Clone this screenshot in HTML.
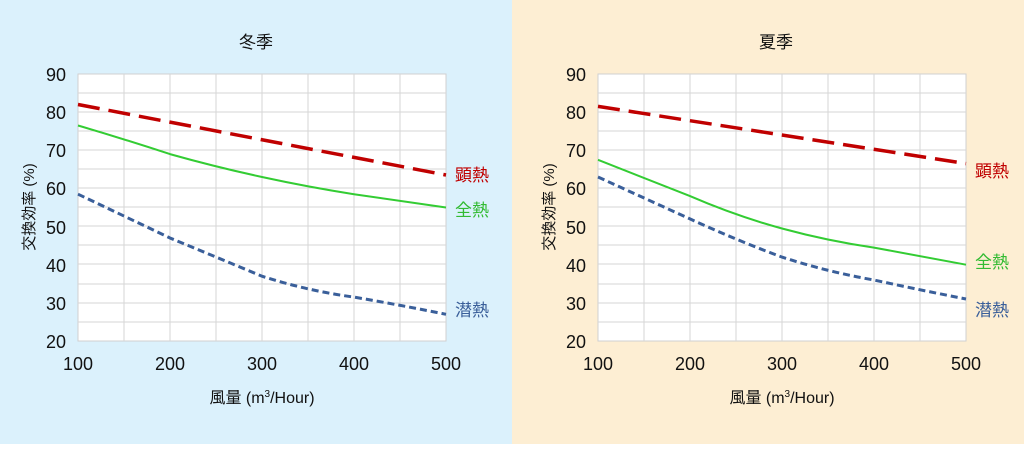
<!DOCTYPE html>
<html><head><meta charset="utf-8"><style>
body{margin:0;width:1024px;height:444px;overflow:hidden}
text{font-family:"Liberation Sans","Noto Sans CJK JP",sans-serif}
</style></head><body>
<svg width="1024" height="444" xmlns="http://www.w3.org/2000/svg">
<rect x="0" y="0" width="512" height="444" fill="#dbf1fc"/>
<rect x="512" y="0" width="512" height="444" fill="#fdeed3"/>
<defs>
<g id="grid">
<rect x="0" y="0" width="368" height="267" fill="#fff" stroke="#d0d0d0"/>
<path d="M46 0V267M92 0V267M138 0V267M184 0V267M230 0V267M276 0V267M322 0V267M0 19H368M0 38H368M0 57H368M0 76H368M0 95H368M0 114H368M0 133H368M0 152H368M0 171H368M0 190H368M0 210H368M0 229H368M0 248H368" stroke="#d6d6d6" stroke-width="1" fill="none"/>
</g>
<g id="ax" font-size="18" fill="#111">
<text x="-12" y="7" text-anchor="end">90</text>
<text x="-12" y="45" text-anchor="end">80</text>
<text x="-12" y="83" text-anchor="end">70</text>
<text x="-12" y="121" text-anchor="end">60</text>
<text x="-12" y="160" text-anchor="end">50</text>
<text x="-12" y="198" text-anchor="end">40</text>
<text x="-12" y="236" text-anchor="end">30</text>
<text x="-12" y="274" text-anchor="end">20</text>
<text x="0" y="296" text-anchor="middle">100</text>
<text x="92" y="296" text-anchor="middle">200</text>
<text x="184" y="296" text-anchor="middle">300</text>
<text x="276" y="296" text-anchor="middle">400</text>
<text x="368" y="296" text-anchor="middle">500</text>
<text x="184" y="329" text-anchor="middle" font-size="16">風量 (m<tspan font-size="10" dy="-6">3</tspan><tspan dy="6">/Hour)</tspan></text>
<text transform="translate(-44 133) rotate(-90)" text-anchor="middle" font-size="15">交換効率 (%)</text>
</g>
</defs>
<g transform="translate(78 74)"><use href="#grid"/><use href="#ax"/></g>
<g transform="translate(598 74)"><use href="#grid"/><use href="#ax"/></g>
<text x="256" y="48" text-anchor="middle" font-size="17" fill="#111">冬季</text>
<text x="776" y="48" text-anchor="middle" font-size="17" fill="#111">夏季</text>
<g fill="none" stroke-linecap="butt">
<path d="M78 104.5L446 175" stroke="#c00000" stroke-width="3.5" stroke-dasharray="22 9"/>
<path d="M78 125.5Q124 139 170 154.1Q216 167 262 177Q308 187 354 194.2Q400 201 446 207.5" stroke="#33cc33" stroke-width="2"/>
<path d="M78 194.2Q124 216 170 238Q216 257 262 276.2Q308 291 354 297.1Q400 305 446 314.3" stroke="#3a5f9a" stroke-width="3" stroke-dasharray="7 4"/>
<path d="M598 106.4L966 163.6" stroke="#c00000" stroke-width="3.5" stroke-dasharray="22 9"/>
<path d="M598 159.8Q644 178 690 196.1Q736 216 782 228.5Q828 241 874 247.6Q920 256 966 264.7" stroke="#33cc33" stroke-width="2"/>
<path d="M598 177Q644 198 690 218.9Q736 240 782 257.1Q828 272 874 280Q920 290 966 299" stroke="#3a5f9a" stroke-width="3" stroke-dasharray="7 4"/>
</g>
<g font-size="17">
<text x="455" y="181" fill="#c00000">顕熱</text>
<text x="455" y="216" fill="#33bb33">全熱</text>
<text x="455" y="316" fill="#3a5f9a">潜熱</text>
<text x="975" y="177" fill="#c00000">顕熱</text>
<text x="975" y="268" fill="#33bb33">全熱</text>
<text x="975" y="316" fill="#3a5f9a">潜熱</text>
</g>
</svg>
</body></html>
